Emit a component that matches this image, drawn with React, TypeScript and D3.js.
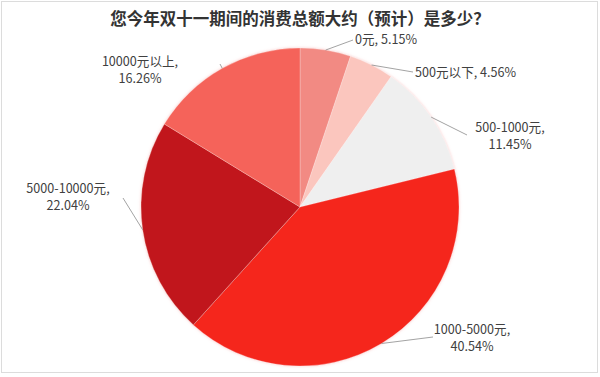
import React from "react";
import * as d3 from "d3";

const title = "您今年双十一期间的消费总额大约（预计）是多少？";
const categories = ["0元", "500元以下", "500-1000元", "1000-5000元", "5000-10000元", "10000元以上"];
const values = [5.15, 4.56, 11.45, 40.54, 22.04, 16.26];
const colors = ["#f28a83", "#fbc6be", "#efefef", "#f5251d", "#c1191a", "#f5645a"];
const labelLines = [
  ["0元, 5.15%"],
  ["500元以下, 4.56%"],
  ["500-1000元,", "11.45%"],
  ["1000-5000元,", "40.54%"],
  ["5000-10000元,", "22.04%"],
  ["10000元以上,", "16.26%"],
];
const labelPos: [number, number, string][] = [
  [355, 44, "start"],
  [415, 77, "start"],
  [510, 132, "middle"],
  [472, 334, "middle"],
  [68, 193, "middle"],
  [140, 66, "middle"],
];
const leaderEnd: [number, number][] = [
  [353, 40],
  [413, 72],
  [467, 135],
  [433, 337],
  [123, 198],
  [220, 64],
];

export default function App() {
  const W = 600, H = 377;
  const cx = 300, cy = 207, r = 159;
  const pie = d3.pie<number>().sort(null).value((d) => d)(values);
  const arc = d3.arc<d3.PieArcDatum<number>>().innerRadius(0).outerRadius(r);
  const edgeArc = d3.arc<d3.PieArcDatum<number>>().innerRadius(r).outerRadius(r);
  const font = "'Noto Sans CJK SC', 'Noto Sans', sans-serif";
  return (
    <svg width={W} height={H} style={{ position: "absolute", left: 0, top: 0 }}>
      <defs>
        <filter id="glow" x="-10%" y="-10%" width="120%" height="120%">
          <feGaussianBlur in="SourceAlpha" stdDeviation="1.5" />
          <feOffset dx="0" dy="0" result="b" />
          <feFlood floodColor="#f4a0a0" floodOpacity="0.6" />
          <feComposite in2="b" operator="in" />
          <feMerge>
            <feMergeNode />
            <feMergeNode in="SourceGraphic" />
          </feMerge>
        </filter>
      </defs>
      <rect x={0} y={0} width={W} height={H} fill="#fff" />
      <rect x={1.5} y={1.5} width={596} height={371} fill="none" stroke="#dcdcdc" strokeWidth={1} />
      <text x={300} y={25} textAnchor="middle" fontFamily={font} fontWeight="bold" fontSize={16.5} fill="#333">
        {title}
      </text>
      <g transform={`translate(${cx},${cy})`} filter="url(#glow)">
        {pie.map((p, i) => (
          <path key={i} d={arc(p) || ""} fill={colors[i]} stroke="#fff" strokeWidth={0.25} />
        ))}
      </g>
      {pie.map((p, i) => {
        const [ex, ey] = edgeArc.centroid(p);
        const [lx, ly] = leaderEnd[i];
        return (
          <line key={"l" + i} x1={cx + ex} y1={cy + ey} x2={lx} y2={ly} stroke="#8c8c8c" strokeWidth={0.8} />
        );
      })}
      {labelLines.map((lines, i) => {
        const [x, y, anchor] = labelPos[i];
        return (
          <text key={"t" + i} x={x} y={y} textAnchor={anchor as any} fontFamily={font} fontSize={12.6} fill="#404040">
            {lines.map((s, j) => (
              <tspan key={j} x={x} dy={j === 0 ? 0 : 16.5}>
                {s}
              </tspan>
            ))}
          </text>
        );
      })}
    </svg>
  );
}
